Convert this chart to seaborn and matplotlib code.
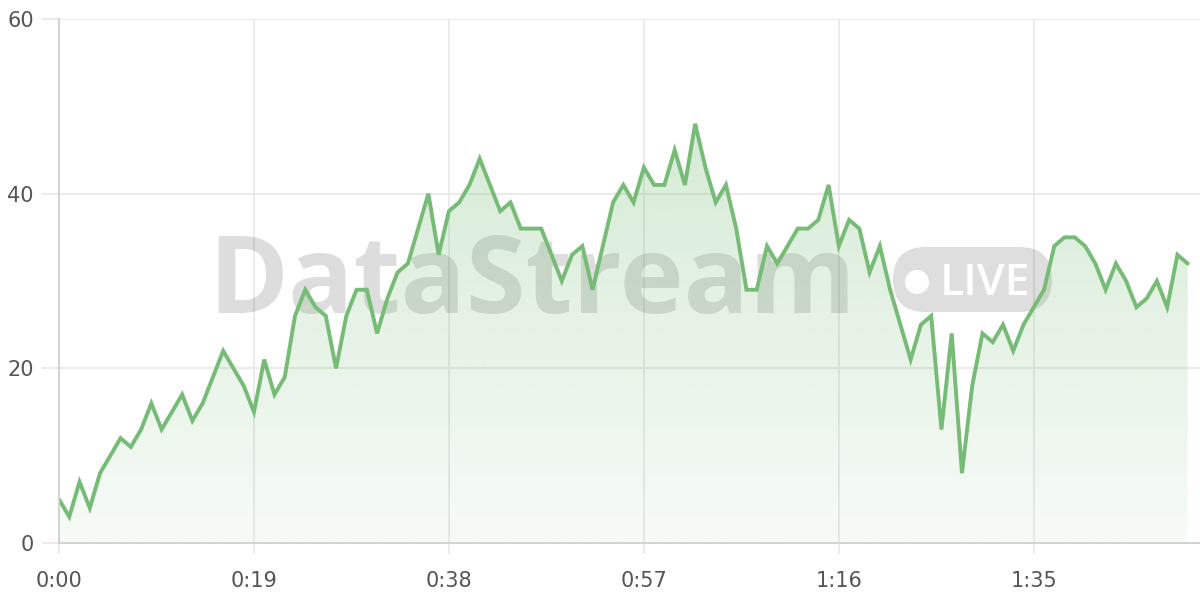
import numpy as np
import matplotlib
matplotlib.use("Agg")
import matplotlib.pyplot as plt
import seaborn as sns
import pandas as pd
from matplotlib.patches import FancyBboxPatch, Circle
from matplotlib.colors import to_rgb

# ---- data ----
values = [5, 3, 7, 4, 8, 10, 12, 11, 13, 16,
          13, 15, 17, 14, 16, 19, 22, 20, 18, 15,
          21, 17, 19, 26, 29, 27, 26, 20, 26, 29,
          29, 24, 28, 31, 32, 36, 40, 33, 38, 39,
          41, 44, 41, 38, 39, 36, 36, 36, 33, 30,
          33, 34, 29, 34, 39, 41, 39, 43, 41, 41,
          45, 41, 48, 43, 39, 41, 36, 29, 29, 34,
          32, 34, 36, 36, 37, 41, 34, 37, 36, 31,
          34, 29, 25, 21, 25, 26, 13, 24, 8, 18,
          24, 23, 25, 22, 25, 27, 29, 34, 35, 35,
          34, 32, 29, 32, 30, 27, 28, 30, 27, 33, 32]
seconds = list(range(len(values)))
x_ticks = [0, 19, 38, 57, 76, 95]
x_tick_labels = ["0:00", "0:19", "0:38", "0:57", "1:16", "1:35"]
y_ticks = [0, 20, 40, 60]
watermark = "DataStream"
badge = "LIVE"

df = pd.DataFrame({"t": seconds, "v": values})

sns.set_theme(style="white")
plt.rcParams["font.family"] = ["DejaVu Sans"]

LINE = "#76bb76"
GRID = "#e8e8e8"

fig = plt.figure(figsize=(12, 6), dpi=100)
ax = fig.add_axes([59 / 1200, 1 - 543 / 600, 1 - 59 / 1200, (543 - 19) / 600])
ax.set_facecolor("white")

# watermark (behind data)
ax.text(2.08, 2.87, watermark, transform=fig.dpi_scale_trans, fontsize=78,
        fontweight="bold", family="Open Sans", color="black", alpha=0.135,
        ha="left", va="baseline", zorder=1)
pill = FancyBboxPatch((8.93, 2.88), 1.59, 0.65,
                      boxstyle="round,pad=0,rounding_size=0.325",
                      transform=fig.dpi_scale_trans, facecolor="black",
                      edgecolor="none", alpha=0.13, zorder=1)
ax.add_patch(pill)
ax.add_patch(Circle((9.17, 3.18), 0.12, transform=fig.dpi_scale_trans,
                    facecolor="white", edgecolor="none", zorder=1.1))
ax.text(9.40, 3.05, badge, transform=fig.dpi_scale_trans, fontsize=32,
        family="Open Sans", fontweight="semibold", color="white",
        ha="left", va="baseline", zorder=1.1)

# gradient fill under the line
poly = ax.fill_between(df["t"], df["v"], 0, facecolor="none", edgecolor="none")
path = poly.get_paths()[0]
n = 256
rgba = np.zeros((n, 1, 4))
rgba[..., :3] = to_rgb(LINE)
rgba[:, 0, 3] = np.linspace(0.06, 0.36, n)
im = ax.imshow(rgba, extent=[0, seconds[-1], 0, 60], origin="lower",
               aspect="auto", zorder=1.5, interpolation="bilinear")
im.set_clip_path(path, transform=ax.transData)

sns.lineplot(data=df, x="t", y="v", ax=ax, color=LINE, linewidth=2.8,
             zorder=2, solid_joinstyle="miter")

ax.set_xlim(0, 111.2)
ax.set_ylim(0, 60)
ax.set_xticks(x_ticks)
ax.set_xticklabels(x_tick_labels)
ax.set_yticks(y_ticks)
ax.set_xlabel("")
ax.set_ylabel("")

ax.grid(True, color=GRID, linewidth=1.2, zorder=0.5)
ax.set_axisbelow(True)
for s in ["top", "right"]:
    ax.spines[s].set_visible(False)
for s in ["left", "bottom"]:
    ax.spines[s].set_color("#d0d0d0")
    ax.spines[s].set_linewidth(1.3)
    ax.spines[s].set_zorder(2.5)

ax.tick_params(axis="x", length=8, width=1.2, color=GRID, pad=12,
               labelsize=15, labelcolor="#555555", bottom=True)
ax.tick_params(axis="y", length=12, width=1.2, color=GRID, pad=6,
               labelsize=15, labelcolor="#555555", left=True)

fig.savefig("out.png", dpi=100)
